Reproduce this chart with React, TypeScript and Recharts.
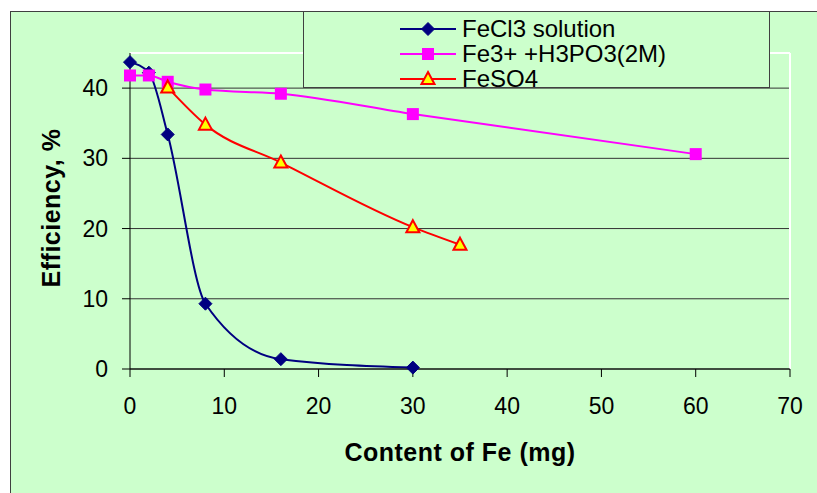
import React from "react";
import {
  LineChart,
  Line,
  XAxis,
  YAxis,
  CartesianGrid,
  Legend,
  ReferenceLine,
} from "recharts";

const FONT = "'Liberation Sans', Arial, sans-serif";
const BG = "#CCFFCC";

// values
const feCl3X = [0, 2, 4, 8, 16, 30];
const feCl3Y = [43.7, 42.2, 33.4, 9.3, 1.4, 0.2];

const fe3X = [0, 2, 4, 8, 16, 30, 60];
const fe3Y = [41.8, 41.8, 40.9, 39.8, 39.2, 36.3, 30.6];

const feSO4X = [4, 8, 16, 30, 35];
const feSO4Y = [40.1, 34.8, 29.4, 20.2, 17.7];

const xTicks = [0, 10, 20, 30, 40, 50, 60, 70];
const yTicks = [0, 10, 20, 30, 40];

const seriesNames = ["FeCl3 solution", "Fe3+ +H3PO3(2M)", "FeSO4"];

const zip = (xs: number[], ys: number[]) => xs.map((x, i) => ({ x, y: ys[i] }));

const feCl3Data = zip(feCl3X, feCl3Y);
const fe3Data = zip(fe3X, fe3Y);
const feSO4Data = zip(feSO4X, feSO4Y);

type Shape = "diamond" | "square" | "triangle";

function Marker({ shape, cx, cy }: { shape: Shape; cx: number; cy: number }) {
  if (shape === "diamond") {
    const r = 6.5;
    return (
      <polygon
        points={`${cx},${cy - r} ${cx + r},${cy} ${cx},${cy + r} ${cx - r},${cy}`}
        fill="#000080"
        stroke="#000080"
      />
    );
  }
  if (shape === "square") {
    return <rect x={cx - 6} y={cy - 6} width={12} height={12} fill="#FF00FF" />;
  }
  return (
    <polygon
      points={`${cx},${cy - 7} ${cx + 6.5},${cy + 5} ${cx - 6.5},${cy + 5}`}
      fill="#FFFF00"
      stroke="#FF0000"
      strokeWidth={2}
    />
  );
}

const dotFor = (shape: Shape) => (props: any) => (
  <Marker key={`${shape}-${props.index}`} shape={shape} cx={props.cx} cy={props.cy} />
);

const legendItems: { name: string; color: string; shape: Shape }[] = [
  { name: seriesNames[0], color: "#000080", shape: "diamond" },
  { name: seriesNames[1], color: "#FF00FF", shape: "square" },
  { name: seriesNames[2], color: "#FF0000", shape: "triangle" },
];

function LegendBox() {
  return (
    <div style={{ paddingTop: 4, paddingLeft: 96, fontFamily: FONT, fontSize: 24, lineHeight: "25px" }}>
      {legendItems.map((it) => (
        <div key={it.name} style={{ display: "flex", alignItems: "center", height: 25 }}>
          <svg width={56} height={20}>
            <line x1={0} y1={10} x2={56} y2={10} stroke={it.color} strokeWidth={2} />
            <Marker shape={it.shape} cx={28} cy={10} />
          </svg>
          <span style={{ marginLeft: 6, color: "#000", whiteSpace: "nowrap" }}>{it.name}</span>
        </div>
      ))}
    </div>
  );
}

export default function App() {
  return (
    <div style={{ position: "absolute", left: 0, top: 0, width: 817, height: 493, background: "#fff", overflow: "hidden" }}>
      <div
        style={{
          position: "absolute",
          left: 10,
          top: 11,
          width: 820,
          height: 500,
          background: BG,
          border: "1px solid #404040",
        }}
      />
      <div style={{ position: "absolute", left: 0, top: 0 }}>
        <LineChart width={817} height={493} margin={{ top: 53, right: 27, bottom: 0, left: 0 }}>
          <CartesianGrid vertical={false} stroke="#333" />
          <XAxis
            dataKey="x"
            type="number"
            domain={[0, 70]}
            ticks={xTicks}
            height={124}
            tickSize={8}
            tickMargin={21}
            stroke="#000"
            tick={{ fill: "#000", fontSize: 23, fontFamily: FONT }}
            label={{
              content: () => (
                <text x={460} y={461} textAnchor="middle" fontFamily={FONT} fontSize={25} fontWeight="bold" letterSpacing={0.5} fill="#000">
                  Content of Fe (mg)
                </text>
              ),
            }}
          />
          <YAxis
            type="number"
            domain={[0, 45]}
            ticks={yTicks}
            width={130}
            tickSize={8}
            tickMargin={14}
            stroke="#000"
            tick={{ fill: "#000", fontSize: 23, fontFamily: FONT }}
            label={{
              content: () => (
                <text
                  x={60}
                  y={208}
                  transform="rotate(-90, 60, 208)"
                  textAnchor="middle"
                  fontFamily={FONT}
                  fontSize={25}
                  fontWeight="bold"
                  letterSpacing={0.5}
                  fill="#000"
                >
                  Efficiency, %
                </text>
              ),
            }}
          />
          <ReferenceLine y={45} stroke="#fff" strokeWidth={2} />
          <ReferenceLine x={70} stroke="#fff" strokeWidth={2} />
          <Legend
            layout="vertical"
            align="center"
            verticalAlign="middle"
            content={() => <LegendBox />}
            wrapperStyle={{
              left: 303,
              top: 11,
              width: 467,
              height: 77,
              background: BG,
              border: "1px solid #404040",
              boxSizing: "border-box",
            }}
          />
          <Line
            data={feCl3Data}
            dataKey="y"
            name={seriesNames[0]}
            type="monotone"
            stroke="#000080"
            strokeWidth={2}
            dot={dotFor("diamond")}
            isAnimationActive={false}
          />
          <Line
            data={fe3Data}
            dataKey="y"
            name={seriesNames[1]}
            type="monotone"
            stroke="#FF00FF"
            strokeWidth={2}
            dot={dotFor("square")}
            isAnimationActive={false}
          />
          <Line
            data={feSO4Data}
            dataKey="y"
            name={seriesNames[2]}
            type="monotone"
            stroke="#FF0000"
            strokeWidth={2}
            dot={dotFor("triangle")}
            isAnimationActive={false}
          />
        </LineChart>
      </div>
    </div>
  );
}
